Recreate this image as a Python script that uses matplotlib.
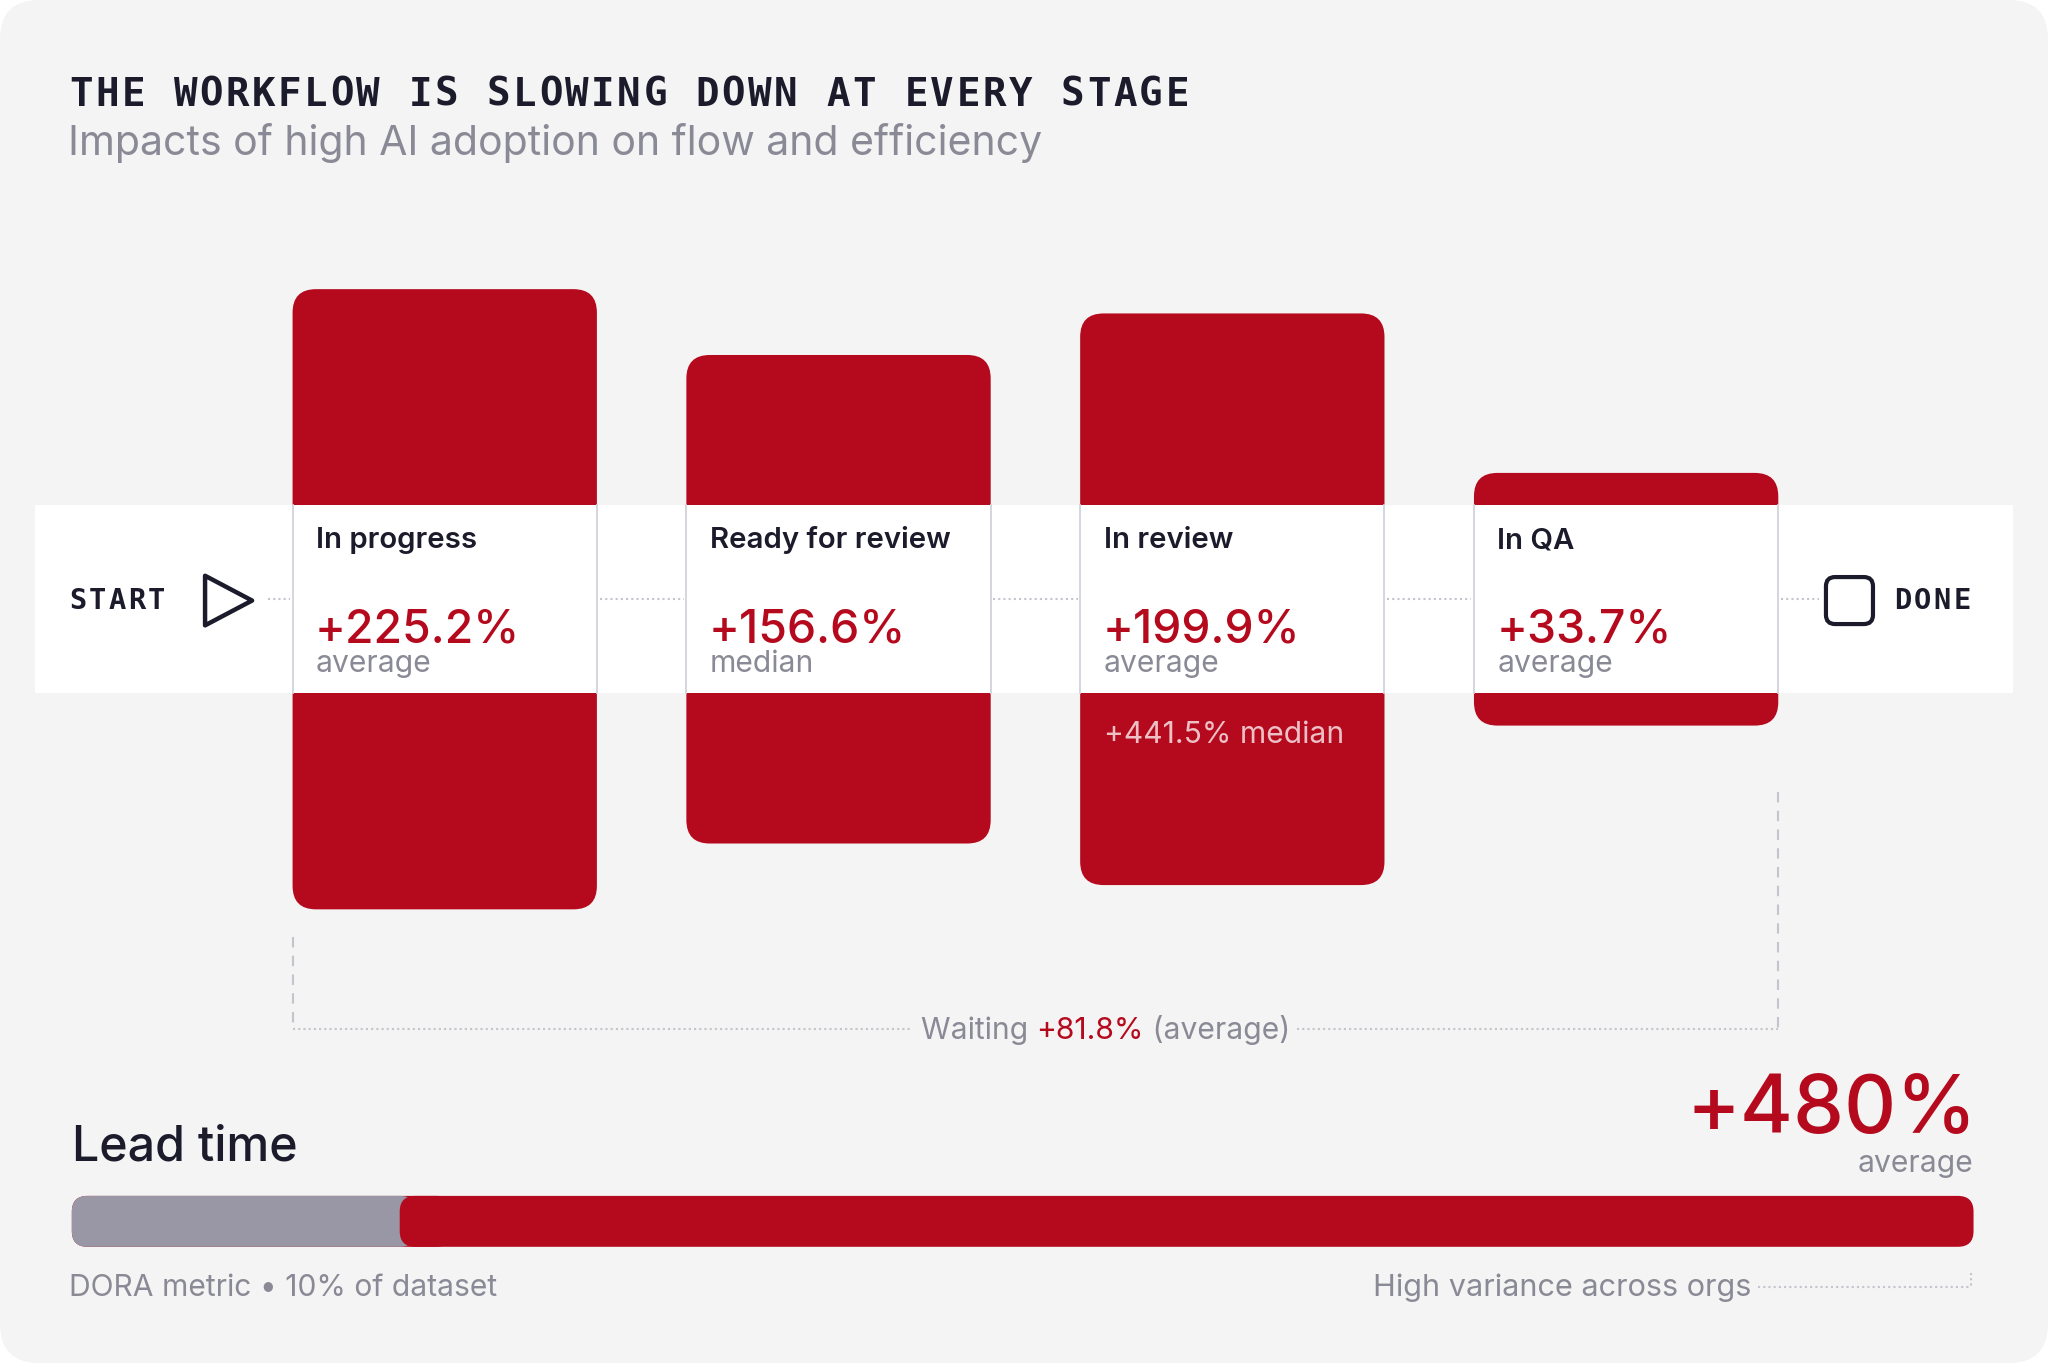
import matplotlib
matplotlib.use('Agg')
import matplotlib.pyplot as plt
from matplotlib.patches import FancyBboxPatch, Polygon, Rectangle

# data
stages = ['In progress', 'Ready for review', 'In review', 'In QA']
change_pct = [225.2, 156.6, 199.9, 33.7]
stat_kind = ['average', 'median', 'average', 'average']
extra_note = ['', '', '+441.5% median', '']
waiting_pct = 81.8
lead_time_pct = 480
baseline_pct = 100

title = 'THE WORKFLOW IS SLOWING DOWN AT EVERY STAGE'
subtitle = 'Impacts of high AI adoption on flow and efficiency'

# style
RED = '#b50a1d'
DARK = '#1b1b2b'
GRAY = '#8a8a96'
LINE = '#c4c4cc'
BG = '#f4f4f4'
SANS = ['Inter', 'DejaVu Sans']
MONO = ['DejaVu Sans Mono']

W, H = 1568, 1044


def fs(px):
    # px measured on a 1568 wide canvas -> points on the 2048 px output
    return px * 0.94


def spaced(ax, x, y, s, step, **kw):
    # monospace text with extra tracking, one glyph per cell
    for i, ch in enumerate(s):
        if ch != ' ':
            ax.text(x + i * step, y, ch, **kw)


fig = plt.figure(figsize=(20.48, 13.63), dpi=100, facecolor='white')
ax = fig.add_axes([0, 0, 1, 1])
ax.set_xlim(0, W)
ax.set_ylim(H, 0)
ax.axis('off')

ax.add_patch(FancyBboxPatch((0, 0), W, H, boxstyle='round,pad=0,rounding_size=30',
                            facecolor=BG, edgecolor='none'))

spaced(ax, 53, 81, title, 19.98, fontsize=fs(30), family=MONO, fontweight='bold', color=DARK)
ax.text(52, 119, subtitle, fontsize=fs(31.4), family=SANS, color=GRAY)

# stage boxes
band_top, band_bot = 387, 531
band_mid = (band_top + band_bot) / 2
col_x0, col_step, col_w = 224, 301.5, 233
base_h, px_per_pct = 144, 1.47

for i, v in enumerate(change_pct):
    x = col_x0 + i * col_step
    h = base_h + px_per_pct * v
    ax.add_patch(FancyBboxPatch((x, band_mid - h / 2), col_w, h,
                                boxstyle='round,pad=0,rounding_size=18',
                                facecolor=RED, edgecolor='none', zorder=2))

ax.add_patch(Rectangle((27, band_top), 1541 - 27, band_bot - band_top,
                       facecolor='white', edgecolor='none', zorder=3))

for i, (name, v, kind, note) in enumerate(zip(stages, change_pct, stat_kind, extra_note)):
    x = col_x0 + i * col_step
    for xe in (x, x + col_w):
        ax.plot([xe, xe], [band_top, band_bot], color='#d2d2da', lw=1.3, zorder=4)
    ax.text(x + 18, 420, name, fontsize=fs(22.5), family=SANS, fontweight='semibold',
            color=DARK, zorder=5)
    ax.text(x + 17, 492, f'+{v}%', fontsize=fs(35.5), family=SANS, fontweight='medium',
            color=RED, zorder=5)
    ax.text(x + 18, 515, kind, fontsize=fs(23), family=SANS, color=GRAY, zorder=5)
    if note:
        ax.text(x + 18, 569, note, fontsize=fs(23), family=SANS, color='#ecc0c5', zorder=5)

# dotted connectors
gaps = [(203, col_x0)]
for i in range(len(stages) - 1):
    gaps.append((col_x0 + i * col_step + col_w, col_x0 + (i + 1) * col_step))
last_right = col_x0 + (len(stages) - 1) * col_step + col_w
gaps.append((last_right, 1395))
for a, b in gaps:
    ax.plot([a + 2, b - 2], [band_mid, band_mid], color=LINE, lw=1.5, ls=(0, (1, 1.5)), zorder=4)

# start / done
spaced(ax, 53, band_mid + 1, 'START', 15, fontsize=fs(22), family=MONO, fontweight='bold',
       color=DARK, va='center', zorder=5)
ax.add_patch(Polygon([(157, 441), (157, 479), (193, 460)], closed=True, fill=False,
                     edgecolor=DARK, lw=3.2, joinstyle='round', zorder=5))
ax.add_patch(FancyBboxPatch((1398, 442), 36, 36, boxstyle='round,pad=0,rounding_size=7',
                            fill=False, edgecolor=DARK, lw=3.0, zorder=5))
spaced(ax, 1450, band_mid + 1, 'DONE', 15.2, fontsize=fs(22), family=MONO, fontweight='bold',
       color=DARK, va='center', zorder=5)

# waiting bracket
wy = 788
ax.plot([col_x0, col_x0], [718, wy], color=LINE, lw=1.5, ls=(0, (5, 4)))
ax.plot([last_right, last_right], [607, wy], color=LINE, lw=1.5, ls=(0, (5, 4)))
ax.plot([col_x0, 697], [wy, wy], color=LINE, lw=1.5, ls=(0, (1, 1.5)))
ax.plot([993, last_right], [wy, wy], color=LINE, lw=1.5, ls=(0, (1, 1.5)))
t1 = ax.text(705, 796, 'Waiting ', fontsize=fs(23), family=SANS, color=GRAY)
t2 = ax.annotate(f'+{waiting_pct}%', xy=(1, 0), xycoords=t1, fontsize=fs(23),
                 family=SANS, color=RED, va='bottom')
ax.annotate(' (average)', xy=(1, 0), xycoords=t2, fontsize=fs(23),
            family=SANS, color=GRAY, va='bottom')

# lead time
ax.text(55, 889, 'Lead time', fontsize=fs(37), family=SANS, fontweight='medium', color=DARK)
ax.text(1514, 868, f'+{lead_time_pct}%', fontsize=fs(62), family=SANS, fontweight='medium',
        color=RED, ha='right')
ax.text(1511, 898, 'average', fontsize=fs(23), family=SANS, color=GRAY, ha='right')

bar_x, bar_w, bar_y, bar_h = 55, 1456, 916, 39
gray_w = bar_w * baseline_pct / (baseline_pct + lead_time_pct)
ax.add_patch(FancyBboxPatch((bar_x, bar_y), bar_w, bar_h,
                            boxstyle='round,pad=0,rounding_size=12',
                            facecolor=RED, edgecolor='none'))
ax.add_patch(FancyBboxPatch((bar_x, bar_y), gray_w + 12, bar_h,
                            boxstyle='round,pad=0,rounding_size=12',
                            facecolor='#9997a5', edgecolor='none'))
ax.add_patch(FancyBboxPatch((bar_x + gray_w, bar_y), 40, bar_h,
                            boxstyle='round,pad=0,rounding_size=12',
                            facecolor=RED, edgecolor='none'))

ax.text(53, 993, 'DORA metric \u2022 10% of dataset', fontsize=fs(23), family=SANS, color=GRAY)
ax.text(1341, 993, 'High variance across orgs', fontsize=fs(23.5), family=SANS,
        color=GRAY, ha='right')
ax.plot([1346, 1509], [986, 986], color=LINE, lw=1.5, ls=(0, (1, 1.5)))
ax.plot([1509, 1509], [975, 986], color=LINE, lw=1.5, ls=(0, (1, 1.5)))

fig.savefig('out.png', dpi=100, facecolor='white')
